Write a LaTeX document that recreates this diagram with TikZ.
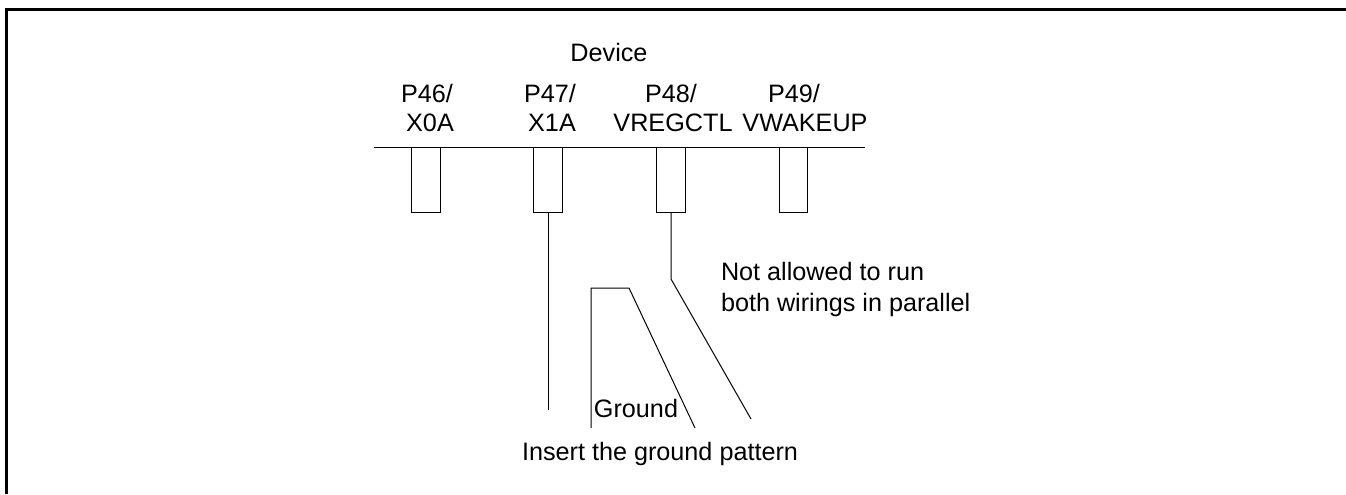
\documentclass[tikz,border=0pt]{standalone}
\usepackage{fontspec}
\setmainfont{Liberation Sans}
\usetikzlibrary{positioning}

\begin{document}
\begin{tikzpicture}[x=0.75pt,y=-0.75pt]
  % some styles
  \tikzset{
    pin/.style={
      rectangle,
      draw,
      minimum width=21.4pt,
      minimum height=48.75pt,
      inner sep=0mm,
      outer sep=0mm,
      anchor=north,
      line width=0.75pt
    },
    wire/.style={line width=0.75pt},
    frame/.style={line width=2.25pt},
    label/.style={
      font=\fontsize{18.9pt}{23pt}\selectfont,
      inner sep=0mm,
      outer sep=0mm,
      anchor=base
    }
  }

\useasboundingbox (0,0) rectangle (1346,494);

% frame
\coordinate (frameBL) at (6.5,494);
\coordinate (frameTL) at (6.5,9.5);
\coordinate (frameTR) at (1346,9.5);
\draw[frame] (frameBL) -- (frameTL) -- (frameTR);

% package edge
\coordinate (edgeL) at (374,147);
\coordinate (edgeR) at (865,147);
\draw[wire] (edgeL) -- (edgeR);

\node[label] (device) at (609,61) {Device};

% pins and their names
\foreach \x/\nam/\px/\ptxt/\sx/\stxt in {426/a/427/P46/430/X0A,548/b/550/P47/552/X1A,671/c/671/P48/673/VREGCTL,793.5/d/794/P49/805/VWAKEUP} {
    \node[pin] (pin\nam) at (\x,147) {};
    \node[label] (port\nam) at (\px,102) {\ptxt/};
    \node[label] (func\nam) at (\sx,131) {\stxt};
}

% wirings
\coordinate (wireA) at (pinb.south |- 0,410);
\coordinate (bendC) at (pinc.south |- 0,279);
\coordinate (wireC) at (751,419);
\coordinate (gndA) at (591,428);
\coordinate (gndB) at (591,288);
\coordinate (gndC) at (629,288);
\coordinate (gndD) at (695,428);
\draw[wire] (pinb.south) -- (wireA);
\draw[wire] (pinc.south) -- (bendC) -- (wireC);
\draw[wire] (gndA) -- (gndB) -- (gndC) -- (gndD);

\node[label,anchor=base west] (notallowed) at (721,280) {Not allowed to run};
\node[label,anchor=base west] (bothwirings) at (721,311) {both wirings in parallel};
\node[label] (ground) at (636,417) {Ground};
\node[label] (insert) at (660,460) {Insert the ground pattern};

\end{tikzpicture}
\end{document}
